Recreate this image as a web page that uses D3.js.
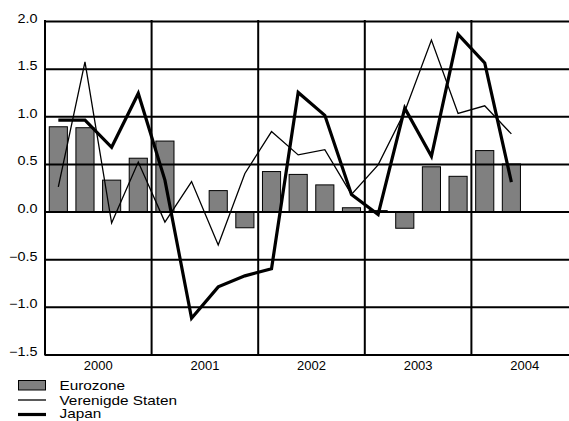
<!DOCTYPE html>
<html><head><meta charset="utf-8">
<script src="https://cdn.jsdelivr.net/npm/d3@7"></script>
<style>
html,body{margin:0;padding:0;background:#fff;}
svg{display:block;font-family:"Liberation Sans",Arial,Helvetica,sans-serif;}
</style></head>
<body>
<svg id="chart" width="569" height="421"></svg>
<script>
const years = ["2000","2001","2002","2003","2004"];
const quarterNames = ["K1","K2","K3","K4"];
const yTicks = [-1.5,-1.0,-0.5,0.0,0.5,1.0,1.5,2.0];
const seriesNames = ["Eurozone","Verenigde Staten","Japan"];
const eurozone = [0.89,0.88,0.33,0.56, 0.74,-0.01,0.22,-0.17, 0.42,0.39,0.28,0.04, 0.01,-0.175,0.47,0.37, 0.64,0.50];
const verenigdeStaten = [0.26,1.57,-0.12,0.52, -0.11,0.315,-0.35,0.40, 0.84,0.595,0.65,0.18, 0.49,1.05,1.80,1.03, 1.11,0.815];
const japan = [0.96,0.96,0.675,1.24, 0.33,-1.12,-0.79,-0.675, -0.60,1.25,1.01,0.18, -0.03,1.085,0.58,1.86, 1.56,0.31];

(function(){
const allQuarters = [];
years.forEach(yr => quarterNames.forEach(q => allQuarters.push(yr + q)));
const dataQuarters = allQuarters.slice(0, eurozone.length);

const svg = d3.select("#chart");
const pLeft = 45, pRight = 578, pTop = 21, pBottom = 354.5;

const x = d3.scaleBand().domain(allQuarters).range([pLeft, pRight]).paddingInner(0.32).paddingOuter(0.16);
const xq = d3.scaleBand().domain(allQuarters).range([pLeft, pRight]);
const xy = d3.scaleBand().domain(years).range([pLeft, pRight]);
const y = d3.scaleLinear().domain([-1.5, 2.0]).range([pBottom, pTop]);

// bars
svg.append("g").selectAll("rect").data(eurozone).join("rect")
  .attr("x", (d,i) => x(dataQuarters[i]))
  .attr("width", x.bandwidth())
  .attr("y", d => y(Math.max(0,d)))
  .attr("height", d => Math.max(0.6, Math.abs(y(d) - y(0))))
  .attr("fill", "#808080").attr("stroke", "#000").attr("stroke-width", 1);

// horizontal grid (y axis)
const yAxis = d3.axisLeft(y).tickValues(yTicks).tickSize(-(pRight-pLeft)).tickFormat(d3.format(".1f"));
const gy = svg.append("g").attr("transform", `translate(${pLeft},0)`).call(yAxis);
gy.select(".domain").remove();
gy.selectAll(".tick line").attr("stroke", "#000").attr("stroke-width", 2);
gy.selectAll(".tick text").remove();
gy.selectAll(".tick").append("g")
  .attr("transform", "translate(-7.5,1) scale(1.2,1)")
  .append("text").attr("text-anchor", "end").attr("font-size", "12px").attr("fill", "#000")
  .text(d => d3.format(".1f")(d));

// vertical grid at year boundaries + left axis
svg.append("g").selectAll("line").data(years).join("line")
  .attr("x1", d => xy(d)).attr("x2", d => xy(d))
  .attr("y1", pTop - 1).attr("y2", pBottom + 1)
  .attr("stroke", "#000").attr("stroke-width", 2);

// year labels
const xAxis = d3.axisBottom(xy).tickSize(0).tickPadding(0);
const gx = svg.append("g").attr("transform", `translate(0,${pBottom})`).call(xAxis);
gx.select(".domain").remove();
gx.selectAll(".tick text").attr("font-size", "13px").attr("fill", "#000").attr("dy", 0).attr("y", 15.5)
  .attr("font-family", "'Liberation Sans', Arial, sans-serif");

// lines
const line = d3.line().x((d,i) => xq(dataQuarters[i]) + xq.bandwidth()/2).y(d => y(d));
svg.append("path").datum(verenigdeStaten).attr("d", line)
  .attr("fill", "none").attr("stroke", "#000").attr("stroke-width", 1.3);
svg.append("path").datum(japan).attr("d", line)
  .attr("fill", "none").attr("stroke", "#000").attr("stroke-width", 3.2);

// legend
const lg = svg.append("g");
lg.append("rect").attr("x", 18.5).attr("y", 380.5).attr("width", 27).attr("height", 9.5)
  .attr("fill", "#808080").attr("stroke", "#000").attr("stroke-width", 1);
lg.append("line").attr("x1", 18).attr("x2", 46).attr("y1", 400).attr("y2", 400)
  .attr("stroke", "#000").attr("stroke-width", 1.3);
lg.append("line").attr("x1", 18).attr("x2", 46).attr("y1", 414.5).attr("y2", 414.5)
  .attr("stroke", "#000").attr("stroke-width", 3.2);
const legY = [389.5, 404.5, 418];
lg.selectAll("g.leg").data(seriesNames).join("g").attr("class", "leg")
  .attr("transform", (d,i) => `translate(59.5,${legY[i]}) scale(1.18,1)`)
  .append("text").attr("x", 0).attr("y", 0).attr("font-size", "13px").attr("fill", "#000")
  .text(d => d);
})();
</script>
</body></html>
